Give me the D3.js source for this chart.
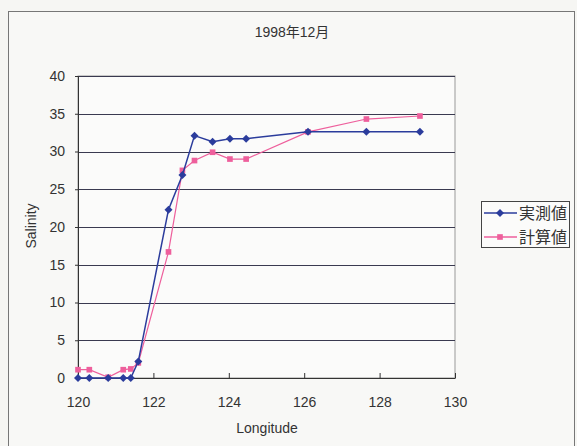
<!DOCTYPE html>
<html><head><meta charset="utf-8">
<script src="https://cdn.jsdelivr.net/npm/d3@7"></script>
<style>
html,body{margin:0;padding:0;background:#f6f6f3;}
svg{display:block;}
text{font-family:"Liberation Sans","Noto Sans CJK JP",Arial,sans-serif;fill:#333;}
</style></head>
<body>
<script>
const title = "1998年12月";
const xLabel = "Longitude";
const yLabel = "Salinity";
const seriesNames = ["実測値", "計算値"];
const longitudes = [120.0, 120.3, 120.8, 121.2, 121.4, 121.6, 122.4, 122.77, 123.09, 123.57, 124.03, 124.46, 126.1, 127.65, 129.07];
const observed   = [0, 0, 0, 0, 0, 2.2, 22.3, 26.9, 32.1, 31.3, 31.7, 31.7, 32.6, 32.6, 32.6];
const computed   = [1.1, 1.1, 0.1, 1.1, 1.2, 2.0, 16.7, 27.5, 28.8, 29.9, 29.0, 29.0, 32.6, 34.3, 34.7];
const xTicks = [120, 122, 124, 126, 128, 130];
const yTicks = [0, 5, 10, 15, 20, 25, 30, 35, 40];
const colors = ["#2b3c9c", "#ee5f9c"];

const W = 577, H = 446;
const svg = d3.select("body").append("svg").attr("width", W).attr("height", H);

// outer frame
svg.append("rect").attr("x", 8.5).attr("y", 11.5).attr("width", 566).attr("height", 450)
  .attr("fill", "#f8f8f6").attr("stroke", "#777").attr("stroke-width", 1);

const x = d3.scaleLinear().domain([120, 130]).range([78, 455]);
const y = d3.scaleLinear().domain([0, 40]).range([378, 76]);

// plot area
svg.append("rect").attr("x", x(120)).attr("y", y(40)).attr("width", x(130) - x(120)).attr("height", y(0) - y(40))
  .attr("fill", "#fbfbfa").attr("stroke", "#999").attr("stroke-width", 1);

// gridlines
svg.append("g").selectAll("line").data(yTicks.filter(d => d > 0)).join("line")
  .attr("x1", x(120)).attr("x2", x(130))
  .attr("y1", d => Math.round(y(d)) + 0.5).attr("y2", d => Math.round(y(d)) + 0.5)
  .attr("stroke", "#3a3a50").attr("stroke-width", 1.2);

// y axis
const yAxis = d3.axisLeft(y).tickValues(yTicks).tickSize(3).tickPadding(10);
const gy = svg.append("g").attr("transform", `translate(${x(120)},0)`).call(yAxis);
gy.select(".domain").attr("stroke", "#333");
gy.selectAll(".tick line").attr("stroke", "#333");
gy.selectAll("text").attr("font-size", 14).attr("fill", "#333")
  .attr("font-family", "'Liberation Sans', Arial, sans-serif");

// x axis
const xAxis = d3.axisBottom(x).tickValues(xTicks).tickSize(-5).tickPadding(19).tickSizeOuter(0);
const gx = svg.append("g").attr("transform", `translate(0,${y(0)})`).call(xAxis);
gx.select(".domain").attr("stroke", "#333");
gx.selectAll(".tick line").attr("stroke", "#333");
gx.selectAll("text").attr("font-size", 14).attr("fill", "#333")
  .attr("font-family", "'Liberation Sans', Arial, sans-serif");

// title and axis labels
svg.append("text").attr("x", 292).attr("y", 37).attr("text-anchor", "middle")
  .attr("font-size", 14).text(title);
svg.append("text").attr("x", 267).attr("y", 433).attr("text-anchor", "middle")
  .attr("font-size", 14).text(xLabel);
svg.append("text").attr("transform", "translate(36,226) rotate(-90)").attr("text-anchor", "middle")
  .attr("font-size", 14).text(yLabel);

const line = d3.line().x(d => x(d[0])).y(d => y(d[1]));
const diamond = "M0,-4L4,0L0,4L-4,0Z";
const square = d3.symbol().type(d3.symbolSquare).size(32);

const series = [observed, computed];
// draw computed first, then observed on top
[1, 0].forEach(i => {
  const pts = longitudes.map((lon, k) => [lon, series[i][k]]);
  svg.append("path").datum(pts).attr("d", line).attr("fill", "none")
    .attr("stroke", colors[i]).attr("stroke-width", i === 0 ? 1.5 : 1.2);
  svg.append("g").selectAll("path").data(pts).join("path")
    .attr("transform", d => `translate(${x(d[0])},${y(d[1])})`)
    .attr("d", i === 0 ? diamond : square)
    .attr("fill", colors[i]);
});

// legend
const lg = svg.append("g");
lg.append("rect").attr("x", 481.5).attr("y", 201.5).attr("width", 88).attr("height", 46)
  .attr("fill", "#fbfbfa").attr("stroke", "#444").attr("stroke-width", 1);
seriesNames.forEach((name, i) => {
  const ly = 213 + i * 24;
  lg.append("line").attr("x1", 484).attr("x2", 517).attr("y1", ly).attr("y2", ly)
    .attr("stroke", colors[i]).attr("stroke-width", 1.5);
  lg.append("path").attr("transform", `translate(500,${ly})`)
    .attr("d", i === 0 ? diamond : square).attr("fill", colors[i]);
  lg.append("text").attr("x", 519).attr("y", ly + 6).attr("font-size", 16)
    .attr("font-family", "'Noto Sans CJK JP', sans-serif").text(name);
});
</script>
</body></html>
